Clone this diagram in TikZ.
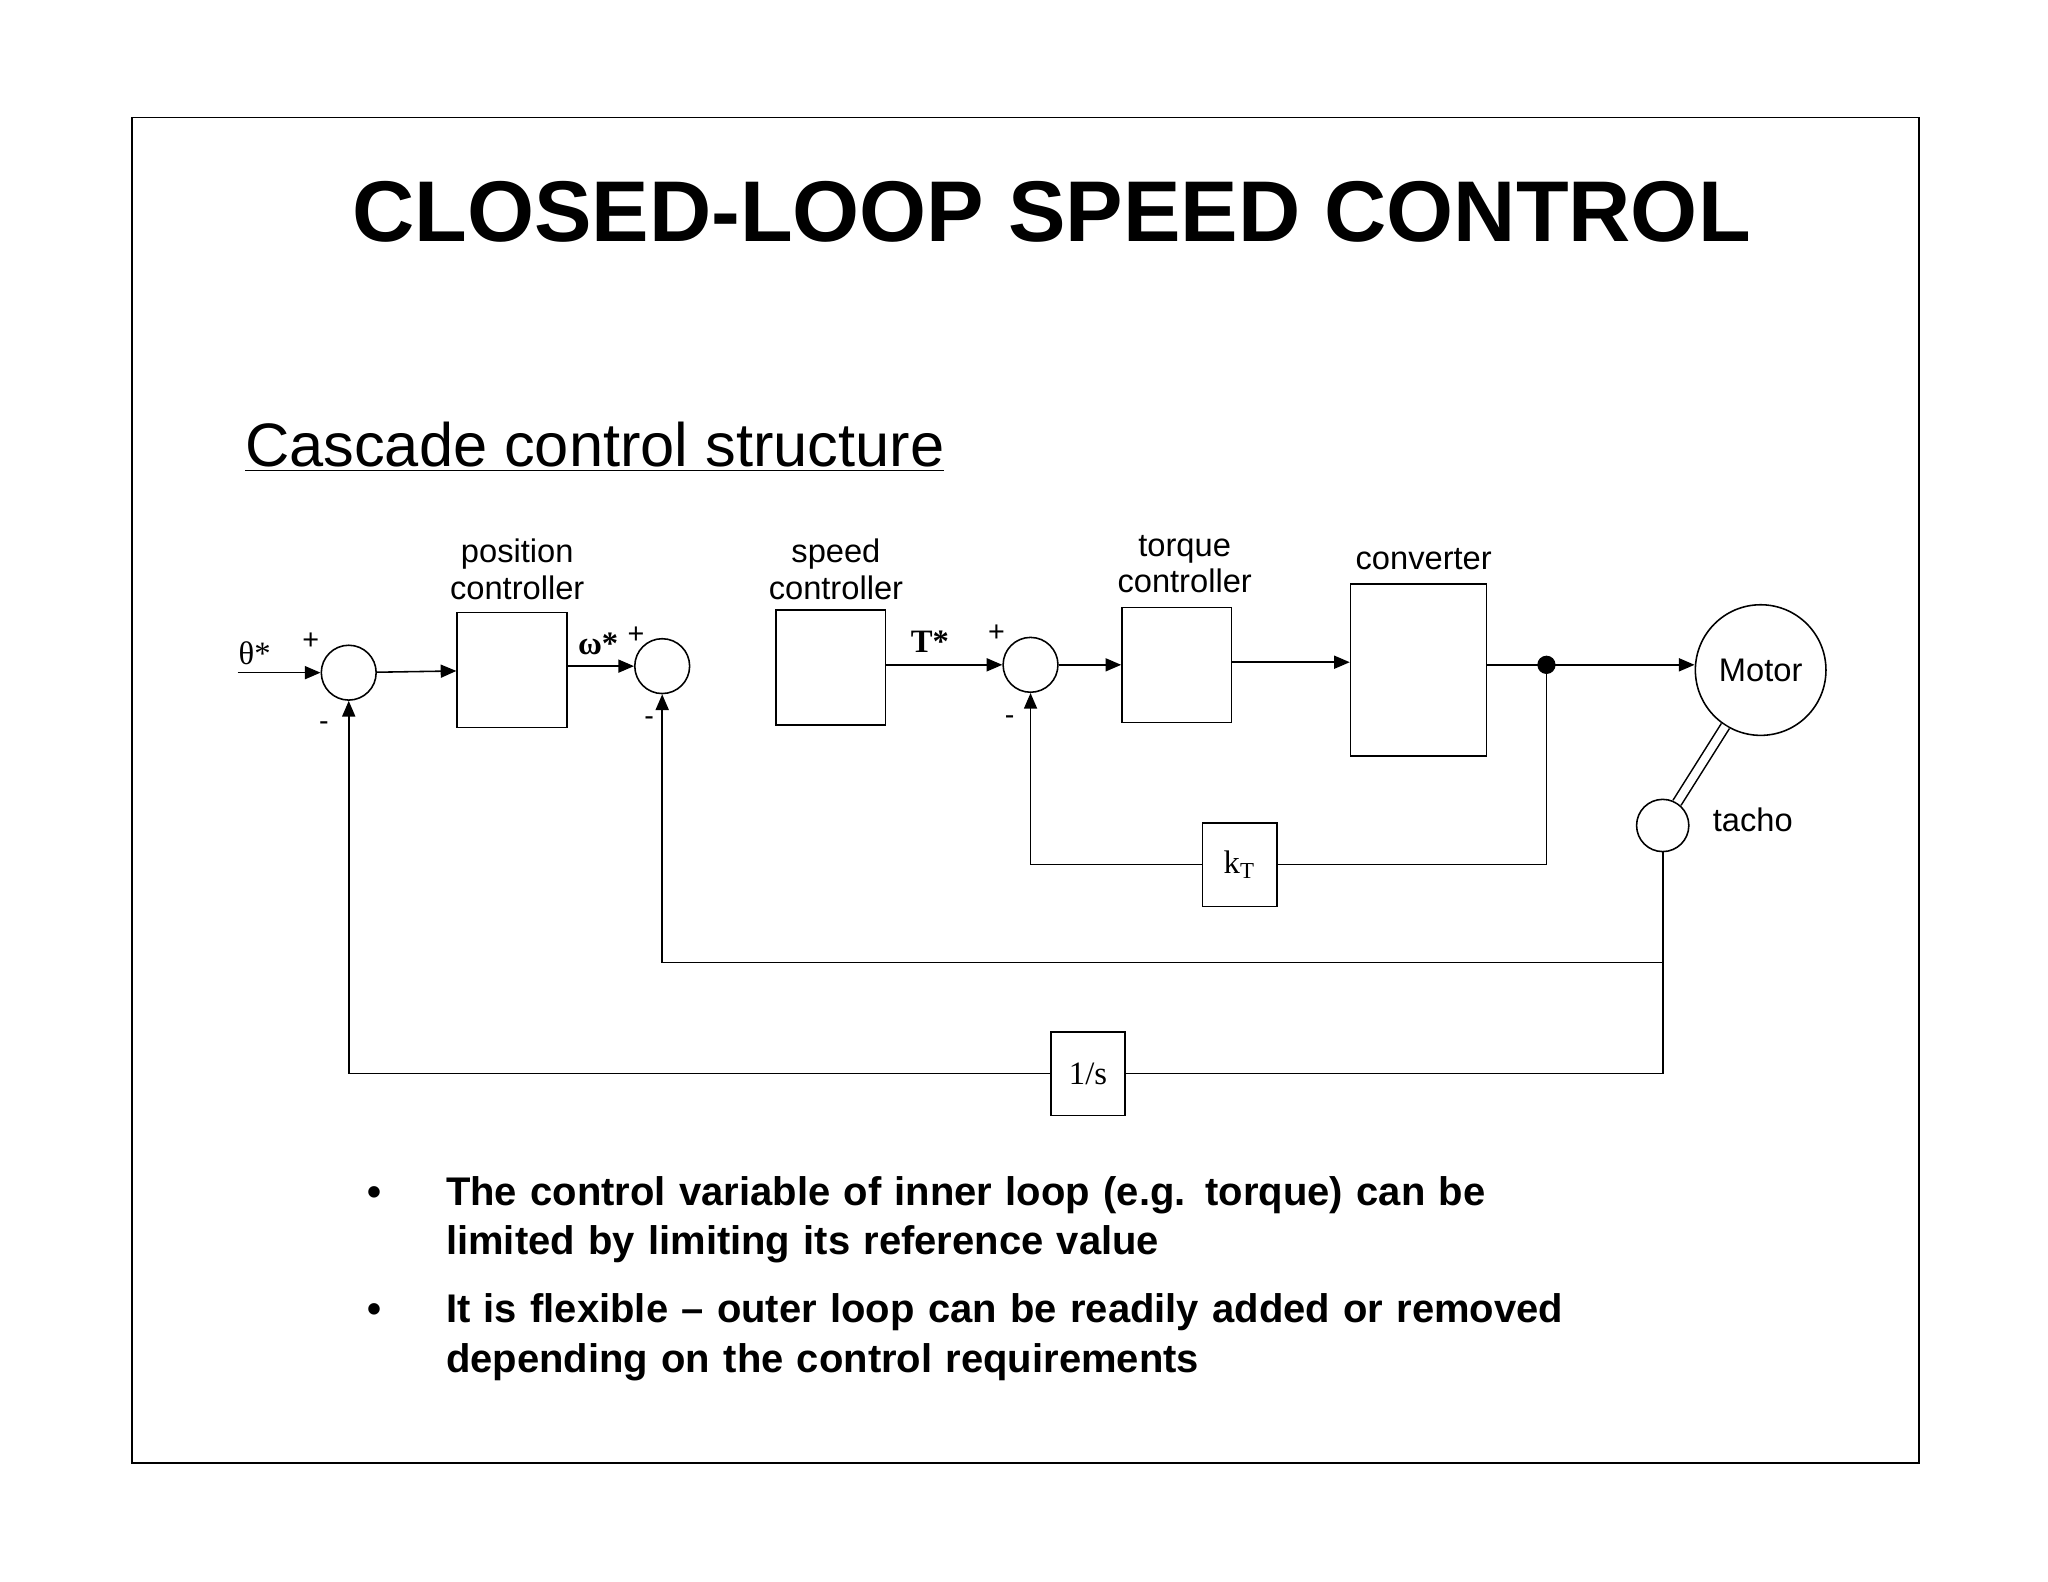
\documentclass[tikz,border=0pt]{standalone}
\usepackage{fontspec}
\setmainfont{Liberation Sans}
\newfontfamily\tms{Liberation Serif}
\usetikzlibrary{arrows.meta}
\begin{document}
\begin{tikzpicture}[x=0.5pt,y=-0.5pt,
  blk/.style={draw,minimum width=42pt,minimum height=44pt,inner sep=0pt},
  sm/.style={draw,circle,minimum size=21pt,inner sep=0pt},
  lbl/.style={font=\fontsize{12.5}{14}\selectfont,align=center},
  sg/.style={font=\fontsize{11}{12}\selectfont},
  ar/.style={-{Triangle[length=6pt,width=5pt]}},
  line width=0.6pt]
\useasboundingbox (0,0) rectangle (1568,1211);
\draw (101,90) rectangle (1469,1120);
\node[font=\bfseries\fontsize{33}{36}\selectfont] (title) at (805,162) {CLOSED-LOOP SPEED CONTROL};
\node[anchor=base west,font=\fontsize{23.5}{26}\selectfont,inner sep=0pt] (sub) at (187,357) {\underline{Cascade control structure}};
% sums
\node[sm] (s1) at (267,515) {};
\node[sm] (s2) at (507,510) {};
\node[sm] (s3) at (789,509) {};
\node[blk] (b1) at (392,513) {};
\node[blk] (b2) at (636,511) {};
\node[blk] (b3) at (901,509) {};
\node[draw,minimum width=52pt,minimum height=66pt] (cv) at (1086,513) {};
\node[draw,circle,minimum size=50pt,inner sep=0pt,lbl] (mot) at (1348,513) {Motor};
\node[draw,circle,minimum size=20pt,inner sep=0pt] (tc) at (1273,632) {};
\node[lbl] (tl) at (1342,628) {tacho};
\node[draw,minimum width=28.5pt,minimum height=32pt,inner sep=0pt,font=\tms\fontsize{12.5}{14}\selectfont] (kt) at (949,662) {k\textsubscript{T}};
\node[draw,minimum width=28.5pt,minimum height=32pt,inner sep=0pt,font=\tms\fontsize{12.5}{14}\selectfont] (is) at (833,822) {1/s};
% labels
\node[lbl] (l1) at (396,436) {position\\controller};
\node[lbl] (l2) at (640,436) {speed\\controller};
\node[lbl] (l3) at (907,432) {torque\\controller};
\node[lbl] (l4) at (1090,428) {converter};
\node[font=\tms\fontsize{12.5}{14}\selectfont] (th) at (195,500) {θ*};
\node[font=\tms\bfseries\fontsize{12.5}{14}\selectfont] (om) at (458,493) {ω*};
\node[font=\tms\bfseries\fontsize{12.5}{14}\selectfont] (ts) at (712,491) {T*};
\node[sg] at (238,491) {+}; \node[sg] at (248,556) {-};
\node[sg] at (487,486) {+}; \node[sg] at (497,552) {-};
\node[sg] at (763,485) {+}; \node[sg] at (773,551) {-};
% connectors
\coordinate (in) at (182,515);
\draw[ar] (in) -- (s1);
\draw[ar] (s1) -- (b1);
\draw[ar] (b1.east|-s2) -- (s2);
\draw[ar] (b2.east|-s3) -- (s3);
\draw[ar] (s3) -- (b3.west|-s3);
\draw[ar] (b3.east|-0,507) -- (cv.west|-0,507);
\coordinate (dot) at (1184,509);
\draw[ar] (cv.east|-dot) -- (mot.west|-dot);
\fill (dot) circle (3.5pt);
\draw[ar] (dot) |- (kt.east) (kt.west) -| (s3.south);
\draw[double,double distance=3pt] (mot) -- (tc);
\draw[ar] (tc.south) |- (1273,737) -| (s2.south);
\draw (1273,737) |- (is.east);
\draw[ar] (is.west) -| (s1.south);
% bullets
\node[anchor=north west,align=left,text width=470pt,font=\bfseries\fontsize{15.3}{19}\selectfont,inner sep=0pt] (bl) at (281,900) {%
\makebox[30pt][l]{\textbullet}The control variable of inner loop (e.g. torque) can be\\
\hspace*{30pt}limited by limiting its reference value\\[7pt]
\makebox[30pt][l]{\textbullet}It is flexible -- outer loop can be readily added or removed\\
\hspace*{30pt}depending on the control requirements};
\end{tikzpicture}
\end{document}
